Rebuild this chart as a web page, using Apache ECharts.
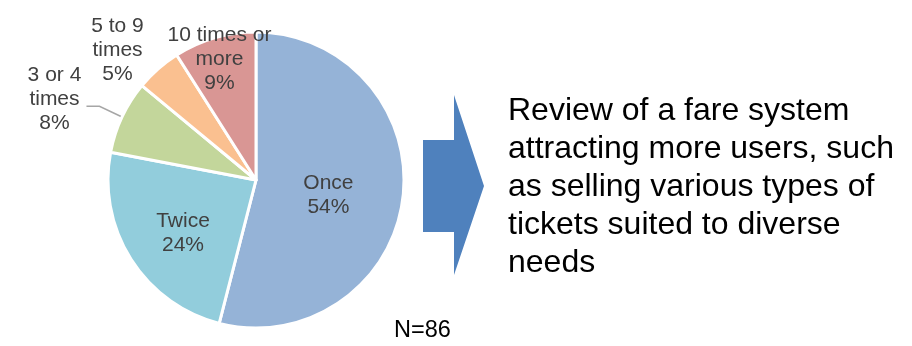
<!DOCTYPE html>
<html>
<head>
<meta charset="utf-8">
<script src="https://cdn.jsdelivr.net/npm/echarts@6/dist/echarts.min.js"></script>
<style>
  html, body { margin: 0; padding: 0; background: #fff; }
  #chart { width: 912px; height: 346px; }
</style>
</head>
<body>
<div id="chart"></div>
<script>
// how often the service was used (share of respondents, %)
var categories = ['Once', 'Twice', '3 or 4\ntimes', '5 to 9\ntimes', '10 times or\nmore'];
var shares = [54, 24, 8, 5, 9];
var colors = ['#95B3D7', '#92CDDC', '#C3D69B', '#FAC090', '#D99694'];
var sampleNote = 'N=86';
var proposal = 'Review of a fare system\nattracting more users, such\nas selling various types of\ntickets suited to diverse\nneeds';

var font = '"Liberation Sans", Arial, sans-serif';

// per-slice label placement, same order as categories
var labelStyles = [
  { position: 'inside', offset: [-4, 6] },
  { position: 'inside', offset: [-8, 12] },
  { position: 'outside', offset: [2, -7] },
  { position: 'outside', offset: [20, -11] },
  { position: 'inside', offset: [-15, -47] }
];
var lineStyles = [
  {},
  {},
  { show: true, length: 25, length2: 13 },
  { show: false, length: 10, length2: 20 },
  {}
];

// centre every line of a label inside a fixed-width box
function centred(text) {
  return text.split('\n').map(function (s) { return '{c|' + s + '}'; }).join('\n');
}

var chart = echarts.init(document.getElementById('chart'));

chart.setOption({
  animation: false,
  series: [{
    type: 'pie',
    center: [256, 180],
    radius: 148,
    startAngle: 90,
    clockwise: true,
    avoidLabelOverlap: false,
    labelLayout: { hideOverlap: false, moveOverlap: null },
    itemStyle: { borderColor: '#fff', borderWidth: 3 },
    label: {
      formatter: function (p) { return centred(p.name + '\n' + p.value + '%'); },
      color: '#404040',
      fontFamily: font,
      fontSize: 21,
      lineHeight: 24,
      rich: {
        c: { width: 58, align: 'center', color: '#404040', fontFamily: font, fontSize: 21, lineHeight: 24 }
      }
    },
    labelLine: {
      show: false,
      lineStyle: { color: '#A6A6A6', width: 1.5 }
    },
    data: categories.map(function (name, i) {
      return {
        name: name,
        value: shares[i],
        itemStyle: { color: colors[i] },
        label: labelStyles[i],
        labelLine: lineStyles[i]
      };
    })
  }],
  graphic: [
    {
      // block arrow pointing to the proposal
      type: 'polygon',
      shape: {
        points: [[423, 140], [454, 140], [454, 95], [484, 186], [454, 275], [454, 232], [423, 232]]
      },
      style: { fill: '#4F81BD' }
    },
    {
      type: 'text',
      left: 508,
      top: 92,
      style: {
        text: proposal,
        fill: '#000',
        font: '32px ' + font,
        lineHeight: 38
      }
    },
    {
      type: 'text',
      left: 394,
      top: 319,
      style: {
        text: sampleNote,
        fill: '#000',
        font: '23.5px ' + font
      }
    }
  ]
});
</script>
</body>
</html>
